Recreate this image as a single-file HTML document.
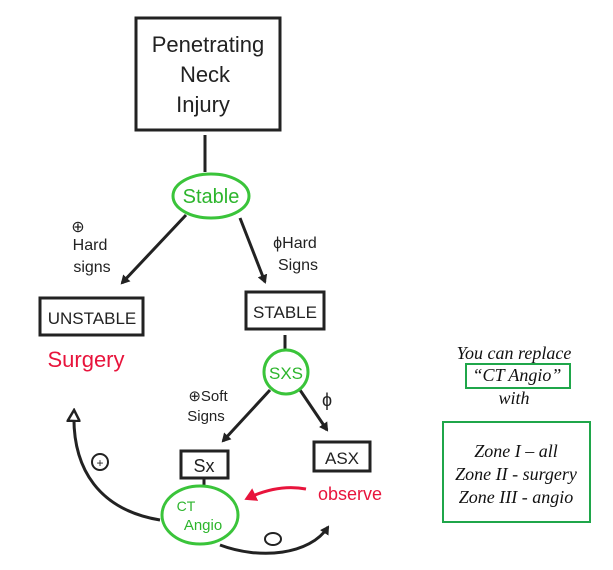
<!DOCTYPE html>
<html><head><style>body{margin:0;background:#fff}svg{display:block}</style></head><body>
<svg width="613" height="570" viewBox="0 0 613 570" xmlns="http://www.w3.org/2000/svg">
<defs>
<marker id="a" markerWidth="10" markerHeight="10" refX="7" refY="5" orient="auto" markerUnits="userSpaceOnUse"><path d="M0,0 L9,5 L0,10 z" fill="#222"/></marker>
<marker id="o" markerWidth="14" markerHeight="14" refX="10" refY="7" orient="auto" markerUnits="userSpaceOnUse"><path d="M1,1 L12,7 L1,13 z" fill="#fff" stroke="#222" stroke-width="2.5"/></marker>
<marker id="r" markerWidth="14" markerHeight="14" refX="8" refY="7" orient="auto" markerUnits="userSpaceOnUse"><path d="M0,0 L12,7 L0,14 z" fill="#e8143c"/></marker>
</defs>
<g fill="none" stroke="#222" stroke-width="3">
<rect x="136" y="18" width="144" height="112"/>
<line x1="205" y1="135" x2="205" y2="172"/>
<line x1="186" y1="215" x2="122" y2="283" marker-end="url(#a)"/>
<line x1="240" y1="218" x2="265" y2="282" marker-end="url(#a)"/>
<rect x="40" y="298" width="103" height="37"/>
<rect x="246" y="292" width="78" height="37"/>
<line x1="285" y1="335" x2="285" y2="350"/>
<line x1="270" y1="390" x2="223" y2="441" marker-end="url(#a)"/>
<line x1="300" y1="390" x2="327" y2="430" marker-end="url(#a)"/>
<rect x="181" y="451" width="47" height="27"/>
<rect x="314" y="442" width="56" height="29"/>
<line x1="204" y1="478" x2="204" y2="486"/>
<path d="M160,520 C100,510 72,470 74,412" marker-end="url(#o)"/>
<path d="M220,545 C260,560 310,555 328,527" marker-end="url(#a)"/>
<circle cx="100" cy="462" r="8" stroke-width="2"/>
<ellipse cx="273" cy="539" rx="8" ry="6" stroke-width="2"/>
</g>
<path d="M306,489 C285,485 265,490 248,498" fill="none" stroke="#e8143c" stroke-width="3" marker-end="url(#r)"/>
<g fill="none" stroke="#3ac43a" stroke-width="3">
<ellipse cx="211" cy="196" rx="38" ry="22"/>
<circle cx="286" cy="372" r="22"/>
<ellipse cx="200" cy="515" rx="38" ry="29"/>
</g>
<g font-family="'Liberation Sans',sans-serif" fill="#222" text-anchor="middle">
<text x="208" y="52" font-size="22">Penetrating</text>
<text x="205" y="82" font-size="22">Neck</text>
<text x="203" y="112" font-size="22">Injury</text>
<text x="211" y="203" font-size="20" fill="#2db52d">Stable</text>
<text x="90" y="250" font-size="16">Hard</text>
<text x="92" y="272" font-size="16">signs</text>
<text x="78" y="232" font-size="16">⊕</text>
<text x="295" y="248" font-size="16">ϕHard</text>
<text x="298" y="270" font-size="16">Signs</text>
<text x="92" y="324" font-size="17">UNSTABLE</text>
<text x="285" y="318" font-size="17">STABLE</text>
<text x="86" y="367" font-size="22" fill="#e8143c">Surgery</text>
<text x="286" y="379" font-size="17" fill="#2db52d">SXS</text>
<text x="208" y="401" font-size="15">⊕Soft</text>
<text x="206" y="421" font-size="15">Signs</text>
<text x="327" y="406" font-size="18">ϕ</text>
<text x="204" y="472" font-size="18">Sx</text>
<text x="342" y="464" font-size="17">ASX</text>
<text x="350" y="500" font-size="18" fill="#e8143c">observe</text>
<text x="100" y="467" font-size="12">+</text>
<text x="186" y="511" font-size="14" fill="#2db52d">CT</text>
<text x="203" y="530" font-size="15" fill="#2db52d">Angio</text>
</g>
<g font-family="'Liberation Serif',serif" font-style="italic" font-size="18" fill="#111" text-anchor="middle">
<text x="514" y="359">You can replace</text>
<text x="517" y="381">“CT Angio”</text>
<text x="514" y="404">with</text>
<text x="516" y="457">Zone I – all</text>
<text x="516" y="480">Zone II - surgery</text>
<text x="516" y="503">Zone III - angio</text>
</g>
<g fill="none" stroke="#1fa64a" stroke-width="2">
<rect x="466" y="364" width="104" height="24"/>
<rect x="443" y="422" width="147" height="100"/>
</g>
</svg>
</body></html>
